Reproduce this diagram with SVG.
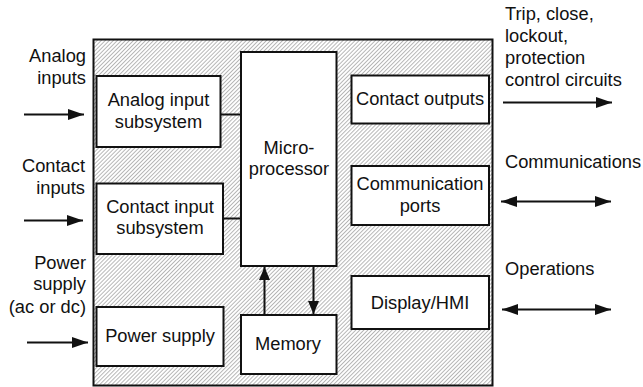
<svg xmlns="http://www.w3.org/2000/svg" width="643" height="387" viewBox="0 0 643 387">
<style>
.t{font-family:"Liberation Sans",Arial,sans-serif;font-size:18.3px;fill:#111}
.c{text-anchor:middle}
.e{text-anchor:end}
.box{fill:#fff;stroke:#111;stroke-width:2}
.ln{stroke:#111;stroke-width:2;fill:none}
</style>
<defs>
<pattern id="hatch" patternUnits="userSpaceOnUse" width="2.85" height="2.85" patternTransform="rotate(45)">
<line x1="0.5" y1="0" x2="0.5" y2="2.85" stroke="#999" stroke-width="0.7"/>
</pattern>
<marker id="ah" markerUnits="userSpaceOnUse" markerWidth="16" markerHeight="11" refX="16" refY="5.5" orient="auto-start-reverse">
<path d="M0,0 L16,5.5 L0,11 z" fill="#111"/>
</marker>
<marker id="ahs" markerUnits="userSpaceOnUse" markerWidth="13" markerHeight="11" refX="13" refY="5.5" orient="auto">
<path d="M0,0 L13,5.5 L0,11 z" fill="#111"/>
</marker>
</defs>
<rect x="0" y="0" width="643" height="387" fill="#fff"/>
<g id="relay">
<rect x="93.5" y="39.5" width="399" height="346" fill="url(#hatch)" stroke="#111" stroke-width="2"/>
</g>
<g id="connectors">
<line class="ln" x1="221" y1="114.5" x2="241" y2="114.5"/>
<line class="ln" x1="223" y1="218.5" x2="241" y2="218.5"/>
<line class="ln" x1="264.5" y1="315" x2="264.5" y2="267" marker-end="url(#ahs)"/>
<line class="ln" x1="313.5" y1="266" x2="313.5" y2="314" marker-end="url(#ahs)"/>
<line class="ln" x1="24" y1="114.5" x2="84" y2="114.5" marker-end="url(#ah)"/>
<line class="ln" x1="24" y1="220.5" x2="83" y2="220.5" marker-end="url(#ah)"/>
<line class="ln" x1="27" y1="342.5" x2="88" y2="342.5" marker-end="url(#ah)"/>
<line class="ln" x1="503" y1="102.5" x2="612" y2="102.5" marker-end="url(#ah)"/>
<line class="ln" x1="501" y1="201.5" x2="611" y2="201.5" marker-start="url(#ah)" marker-end="url(#ah)"/>
<line class="ln" x1="502" y1="309.5" x2="611" y2="309.5" marker-start="url(#ah)" marker-end="url(#ah)"/>
</g>
<g id="analog-input-subsystem">
<rect class="box" x="96.5" y="76" width="124" height="71"/>
<text class="t c" x="158.5" y="106">Analog input</text>
<text class="t c" x="158.5" y="127.5">subsystem</text>
</g>
<g id="contact-input-subsystem">
<rect class="box" x="96.5" y="183.5" width="126.5" height="70.5"/>
<text class="t c" x="160" y="212.5">Contact input</text>
<text class="t c" x="160" y="234">subsystem</text>
</g>
<g id="power-supply">
<rect class="box" x="96.5" y="307" width="127" height="59"/>
<text class="t c" x="160" y="341.5">Power supply</text>
</g>
<g id="microprocessor">
<rect class="box" x="241" y="52" width="95.5" height="214"/>
<text class="t c" x="289" y="153.5">Micro-</text>
<text class="t c" x="289" y="175">processor</text>
</g>
<g id="memory">
<rect class="box" x="241" y="315" width="95.5" height="59"/>
<text class="t c" x="288" y="350">Memory</text>
</g>
<g id="contact-outputs">
<rect class="box" x="351.5" y="75.5" width="137.5" height="48"/>
<text class="t c" x="420" y="105">Contact outputs</text>
</g>
<g id="communication-ports">
<rect class="box" x="351.5" y="166" width="137.5" height="59"/>
<text class="t c" x="420" y="189.5">Communication</text>
<text class="t c" x="420" y="211.5">ports</text>
</g>
<g id="display-hmi">
<rect class="box" x="351.5" y="276" width="137.5" height="53"/>
<text class="t c" x="420" y="308.5">Display/HMI</text>
</g>
<g id="labels">
<text class="t e" x="86" y="61.5">Analog</text>
<text class="t e" x="86" y="83.5">inputs</text>
<text class="t e" x="85" y="171.5">Contact</text>
<text class="t e" x="85" y="193.5">inputs</text>
<text class="t e" x="86" y="268.5">Power</text>
<text class="t e" x="86" y="290">supply</text>
<text class="t e" x="86" y="313">(ac or dc)</text>
<text class="t" x="505" y="19.5">Trip, close,</text>
<text class="t" x="505" y="41.5">lockout,</text>
<text class="t" x="505" y="63.5">protection</text>
<text class="t" x="505" y="85.5">control circuits</text>
<text class="t" x="505" y="167.5">Communications</text>
<text class="t" x="505" y="275">Operations</text>
</g>
</svg>
